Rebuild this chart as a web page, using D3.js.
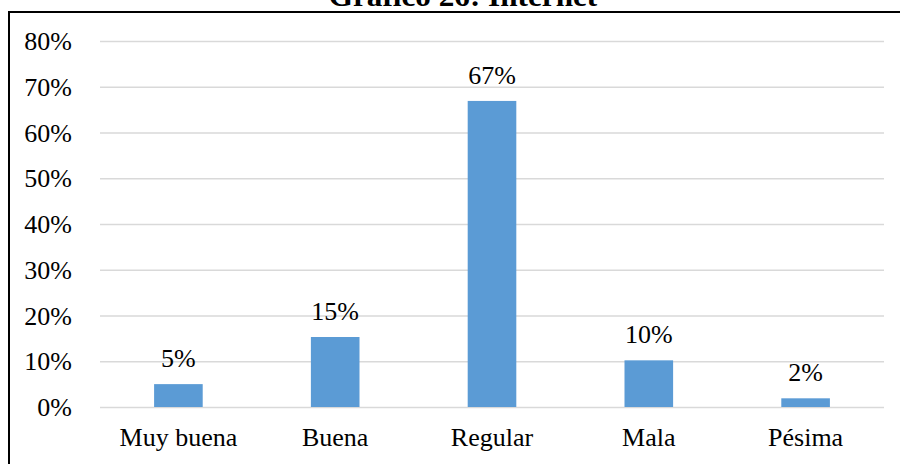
<!DOCTYPE html>
<html><head><meta charset="utf-8">
<script src="https://cdn.jsdelivr.net/npm/d3@7/dist/d3.min.js"></script>
<style>html,body{margin:0;padding:0;background:#fff;}svg{display:block;}
text{font-family:"Liberation Serif","Times New Roman",Times,serif;}</style>
</head><body>
<svg id="c" width="900" height="464"></svg>
<script>
const title = "Gráfico 26: Internet";
const categories = ["Muy buena", "Buena", "Regular", "Mala", "Pésima"];
const values = [0.050, 0.153, 0.669, 0.102, 0.019];
const valueLabels = ["5%", "15%", "67%", "10%", "2%"];
const yTicks = [0, 0.1, 0.2, 0.3, 0.4, 0.5, 0.6, 0.7, 0.8];

const svg = d3.select("#c");
const W = 900, H = 464;
const m = {left: 100, right: 16, top: 41, bottom: 57};
const fs = 25, sx = 1.04;

// border
svg.append("rect").attr("x", 9).attr("y", 12).attr("width", 900).attr("height", 470)
  .attr("fill", "none").attr("stroke", "#000").attr("stroke-width", 2);

const x = d3.scaleBand().domain(categories).range([m.left, W - m.right]).paddingInner(0.69).paddingOuter(0.345);
const y = d3.scaleLinear().domain([0, 0.8]).range([H - m.bottom, m.top]);

function txt(g, xx, yy, s, anchor, size, weight) {
  return g.append("text").attr("transform", `translate(${xx},${yy}) scale(${sx},1)`)
    .attr("text-anchor", anchor).style("font-size", size + "px")
    .style("font-weight", weight || "normal").attr("fill", "#000").text(s);
}

// gridlines via axis
const yAxis = d3.axisLeft(y).tickValues(yTicks).tickSize(-(W - m.right - m.left)).tickFormat("");
const ga = svg.append("g").attr("transform", `translate(${m.left},0)`).call(yAxis);
ga.select(".domain").remove();
ga.selectAll(".tick line").attr("stroke", "#d9d9d9").attr("stroke-width", 1.5);

// y tick labels
const yl = svg.append("g");
yTicks.forEach(t => txt(yl, 72, y(t) + 9, d3.format(".0%")(t), "end", fs));

// bars
svg.append("g").selectAll("rect").data(values).join("rect")
  .attr("x", (d, i) => x(categories[i]))
  .attr("width", x.bandwidth())
  .attr("y", d => y(d))
  .attr("height", d => y(0) - y(d))
  .attr("fill", "#5B9BD5");

// value labels
const vl = svg.append("g");
values.forEach((v, i) => txt(vl, x(categories[i]) + x.bandwidth() / 2, y(v) - 17, valueLabels[i], "middle", fs));

// category labels
const cl = svg.append("g");
categories.forEach(c => txt(cl, x(c) + x.bandwidth() / 2, 446, c, "middle", fs));

// title
txt(svg, 463, 6, title, "middle", 30, "bold");
</script>
</body></html>
